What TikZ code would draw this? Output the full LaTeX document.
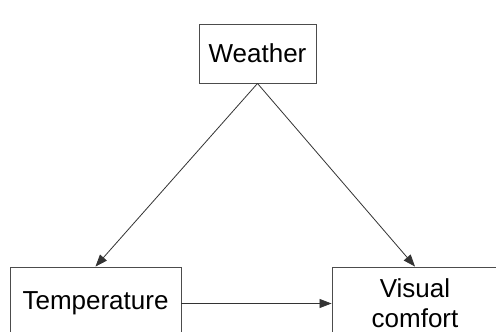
\documentclass[tikz,border=0pt]{standalone}
\usepackage{fontspec}
\setmainfont{Liberation Sans}
\usetikzlibrary{arrows.meta}
\begin{document}
\begin{tikzpicture}[x=1pt,y=-1pt,
  box/.style={draw=black!70,line width=0.9pt,rectangle,inner sep=0pt,
    font=\fontsize{26}{30}\selectfont,align=center},
  link/.style={draw=black!80,line width=0.8pt,
    -{Triangle[length=12pt,width=9pt]}}]
  \useasboundingbox (0,0) rectangle (496,332);
  \clip (0,0) rectangle (496,332);
  \fill[white] (0,0) rectangle (496,332);
  % causal boxes
  \node[box,minimum width=117pt,minimum height=59pt] (weather) at (257.5,53.5) {Weather};
  \node[box,minimum width=171pt,minimum height=73pt] (temp) at (95.5,303.5) {Temperature};
  \node[box,minimum width=166pt,minimum height=73pt] (comfort) at (415,303.5) {Visual\\comfort};
  % influences
  \draw[link] (weather.south) -- (temp.north);
  \draw[link] (weather.south) -- (comfort.north);
  \draw[link] (temp.east) -- (comfort.west);
\end{tikzpicture}
\end{document}
